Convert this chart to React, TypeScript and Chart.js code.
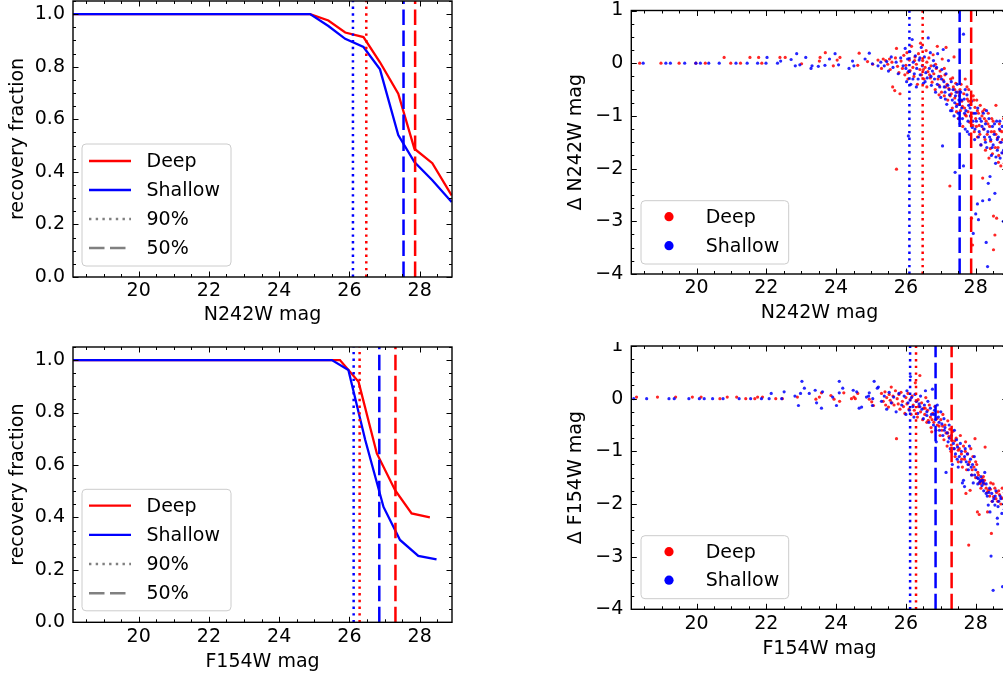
import React, { useEffect, useRef } from "react";
import { Chart, registerables } from "chart.js";

Chart.register(...registerables);

const FONT = "'DejaVu Sans', sans-serif";
const FONT_SIZE = 19;
const RED = "#ff0000";
const BLUE = "#0000ff";
const GRAY = "#808080";
const RED_PT = "rgba(255,0,0,0.85)";
const BLUE_PT = "rgba(0,0,255,0.85)";

// ---------- axes ----------
const X_MIN = 18.13;
const X_MAX = 28.92;
const X_TICKS = [20, 22, 24, 26, 28];
const FRAC_TICKS = [0, 0.2, 0.4, 0.6, 0.8, 1.0];
const DELTA_TICKS = [-4, -3, -2, -1, 0, 1];

// ---------- recovery fraction curves ----------
const n242MagDeep = [18.13, 24.88, 25.4, 25.88, 26.4, 26.87, 27.39, 27.85, 28.36, 28.91];
const n242FracDeep = [1.0, 1.0, 0.976, 0.93, 0.913, 0.817, 0.697, 0.488, 0.433, 0.31];
const n242MagShallow = [18.13, 24.88, 25.4, 25.88, 26.4, 26.87, 27.39, 27.85, 28.36, 28.91];
const n242FracShallow = [1.0, 1.0, 0.955, 0.906, 0.875, 0.79, 0.54, 0.437, 0.368, 0.285];

const f154MagDeep = [18.13, 25.73, 26.26, 26.78, 27.3, 27.77, 28.29];
const f154FracDeep = [1.0, 1.0, 0.917, 0.644, 0.504, 0.415, 0.4];
const f154MagShallow = [18.13, 25.5, 25.97, 26.45, 26.97, 27.44, 27.96, 28.48];
const f154FracShallow = [1.0, 1.0, 0.962, 0.695, 0.44, 0.314, 0.253, 0.24];

// ---------- completeness limits [deep, shallow] ----------
const n242Lim90 = [26.48, 26.1];
const n242Lim50 = [27.87, 27.54];
const f154Lim90 = [26.29, 26.12];
const f154Lim50 = [27.31, 26.85];

// ---------- magnitude differences ----------
const n242DeltaDeep: [number, number][] = [
  [18.37, 0], [18.98, 0], [19.5, 0], [19.98, 0], [20.25, 0], [20.79, 0.11], [20.98, 0], [21.26, 0],
  [21.53, 0.11], [21.78, 0.11], [21.87, 0], [22.39, 0.11], [22.54, 0.11], [23.01, -0.01], [23.52, 0.04],
  [23.54, 0.11], [23.69, 0.2], [23.92, -0.05], [24.03, 0.06], [24.11, 0.11], [24.62, -0.04], [24.66, 0.19],
  [24.9, 0.03], [25.05, -0.02], [25.2, 0.06], [25.3, -0.1], [25.35, 0.08],
  [25.42, 0.05], [25.48, -0.02], [25.53, 0.08], [25.55, -0.12], [25.6, 0.02], [25.62, -0.45], [25.68, -0.52],
  [25.7, 0.1], [25.73, 0.28], [25.73, -2.01], [25.76, -0.06], [25.8, -0.18], [25.83, -0.58], [25.86, 0.04],
  [25.9, -0.1], [25.94, 0.15], [25.97, -0.22], [26.0, -0.04], [26.03, 0.2], [26.06, -0.3], [26.1, 0.06],
  [26.12, -0.14], [26.16, 0.32], [26.2, -0.08], [26.23, -0.25], [26.26, 0.12], [26.3, -0.02], [26.33, -0.4],
  [26.36, 0.18], [26.4, -0.12], [26.42, 0.38], [26.45, -0.22], [26.48, 0.05], [26.52, -0.3], [26.55, -0.08],
  [26.58, 0.24], [26.6, -0.45], [26.63, -0.16], [26.66, 0.1], [26.7, -0.28], [26.72, -0.05], [26.75, -0.36],
  [26.78, 0.16], [26.8, -0.2], [26.84, -0.5], [26.87, -0.1], [26.9, 0.32], [26.92, -0.3], [26.95, -0.42],
  [26.98, -0.15], [27.02, -0.55], [27.04, 0.08], [27.07, -0.32], [27.1, -0.62], [27.12, -0.22], [27.15, 0.3],
  [27.18, -0.4], [27.2, -0.7], [27.23, -0.48], [27.26, -2.33], [27.28, -0.3], [27.3, -0.58], [27.33, -0.85],
  [27.36, -0.45], [27.38, 0.12], [27.4, -0.66], [27.43, -0.38], [27.46, -0.78], [27.48, -0.55], [27.5, -1.05],
  [27.53, -0.62], [27.56, -0.9], [27.58, -0.4], [27.6, -0.72], [27.63, -1.2], [27.66, -0.58], [27.68, -0.85],
  [27.7, -0.3], [27.73, -1.0], [27.76, -0.68], [27.78, -0.92], [27.8, -0.5], [27.83, -1.12], [27.85, -0.78],
  [27.88, -2.94], [27.9, -0.95], [27.91, -3.45], [27.93, -0.62], [27.96, -1.3], [27.98, -0.84], [28.0, -1.05],
  [28.03, -0.7], [28.05, -1.4], [28.08, -0.95], [28.1, -1.18], [28.13, -0.8], [28.15, -1.55], [28.18, -1.0],
  [28.2, -2.18], [28.22, -1.25], [28.25, -0.88], [28.28, -1.65], [28.3, -1.1], [28.33, -1.35], [28.36, -0.95],
  [28.38, -1.8], [28.4, -1.2], [28.43, -1.48], [28.46, -1.05], [28.48, -1.72], [28.51, -2.9], [28.51, -3.54],
  [28.53, -1.3], [28.55, -3.26], [28.56, -1.6], [28.58, -0.8], [28.6, -2.94], [28.62, -1.42], [28.65, -1.88],
  [28.68, -1.15], [28.7, -1.5], [28.72, -1.95], [28.75, -1.3], [28.78, -1.7], [28.8, -1.05], [28.83, -1.6],
  [28.86, -1.25], [28.88, -1.85], [28.9, -1.45],
  [26.05, -0.18], [26.25, 0.05], [26.5, -0.12], [26.68, -0.22], [26.85, -0.02], [27.0, -0.25], [27.14, -0.45],
  [27.27, -0.62], [27.34, -0.28], [27.45, -0.92], [27.55, -0.5], [27.62, -0.82], [27.7, -0.98], [27.8, -0.72],
  [27.87, -1.02], [27.95, -0.7], [28.02, -1.2], [28.12, -1.35], [28.2, -0.92], [28.27, -1.45], [28.35, -1.15],
  [28.42, -1.62], [28.5, -1.1], [28.58, -1.35], [28.64, -1.6], [28.7, -1.28], [28.77, -1.45], [28.82, -1.9],
  [28.88, -1.6], [28.66, -1.75], [28.45, -1.3], [28.25, -1.05], [28.05, -0.9], [27.92, -1.18], [27.75, -0.45],
  [27.52, -0.78], [27.4, -0.5], [27.1, -0.1], [26.95, -0.6], [26.6, 0.02],
];

const n242DeltaShallow: [number, number][] = [
  [18.47, 0], [19.12, 0], [19.25, 0], [19.66, 0], [19.98, 0], [20.11, 0], [20.35, 0], [20.65, 0], [21.13, 0],
  [21.45, 0], [21.75, 0], [21.99, 0], [22.02, 0.11], [22.32, 0], [22.41, 0.04], [22.71, 0.07], [22.87, 0.18],
  [22.83, -0.05], [22.96, -0.03], [23.13, 0.11], [23.31, -0.05], [23.28, -0.1], [23.49, -0.06], [23.68, -0.04],
  [23.81, 0.08], [23.97, 0.18], [24.07, -0.03], [24.37, -0.1], [24.47, 0.04], [24.51, -0.05], [24.83, 0.08],
  [24.95, 0.19], [25.04, -0.01], [25.2, -0.05], [25.28, 0.02],
  [25.38, -0.05], [25.45, 0.03], [25.5, -0.15], [25.58, 0.12], [25.63, -0.08], [25.72, 0.02], [25.78, -0.2],
  [25.85, 0.1], [25.92, -0.05], [25.98, 0.28], [26.02, -0.35], [26.05, 0.08], [26.07, -1.38], [26.08, -0.15],
  [26.11, 0.22], [26.14, -0.4], [26.18, 0.45], [26.21, 0.02], [26.24, -0.2], [26.27, 0.14], [26.31, -0.1],
  [26.35, -0.3], [26.38, 0.06], [26.41, -0.22], [26.44, 0.3], [26.47, -0.05], [26.5, -0.38], [26.53, 0.12],
  [26.57, -0.18], [26.61, -0.28], [26.64, 0.48], [26.67, -0.1], [26.7, 0.2], [26.73, -0.42], [26.76, -0.15],
  [26.79, 0.05], [26.82, -0.3], [26.85, -0.55], [26.88, -0.08], [26.91, 0.18], [26.94, -0.25], [26.97, -0.45],
  [27.0, -0.65], [27.03, -0.12], [27.05, -1.57], [27.07, 0.26], [27.09, -0.35], [27.12, -0.55], [27.15, -0.2],
  [27.17, -0.78], [27.2, -0.42], [27.22, 0.05], [27.25, -0.6], [27.28, -0.9], [27.3, -0.35], [27.33, -0.7],
  [27.35, -0.5], [27.38, -1.0], [27.41, -2.07], [27.42, -0.62], [27.45, -0.82], [27.47, -0.4], [27.5, -0.95],
  [27.52, -0.7], [27.55, -1.15], [27.57, -0.55], [27.6, -0.85], [27.62, -1.05], [27.65, 0.55], [27.65, -1.95],
  [27.67, -0.68], [27.7, -1.25], [27.72, -0.9], [27.75, -0.6], [27.78, -1.1], [27.8, -0.8], [27.82, -1.35],
  [27.85, -1.0], [27.88, -0.72], [27.9, -1.22], [27.93, -3.23], [27.95, -0.95], [27.97, -1.45], [28.0, -2.86],
  [28.02, -1.1], [28.05, -2.67], [28.06, -0.85], [28.08, -2.97], [28.1, -1.3], [28.12, -1.05], [28.15, -1.55],
  [28.18, -1.2], [28.2, -2.61], [28.22, -0.95], [28.25, -1.4], [28.28, -1.15], [28.3, -3.4], [28.32, -1.6],
  [28.34, -3.86], [28.35, -1.3], [28.36, -2.28], [28.38, -1.05], [28.39, -2.59], [28.41, -2.15], [28.43, -1.45],
  [28.45, -1.75], [28.48, -1.2], [28.5, -1.55], [28.53, -1.35], [28.55, -2.47], [28.57, -1.9], [28.6, -1.1],
  [28.62, -1.65], [28.65, -1.4], [28.68, -1.25], [28.7, -1.8], [28.73, -1.5], [28.76, -1.2], [28.79, -3.0],
  [28.8, -1.65], [28.84, -1.35], [28.87, -2.0], [28.9, -1.5],
  [26.0, -0.1], [26.2, -0.3], [26.4, 0.1], [26.55, -0.35], [26.72, -0.25], [26.9, -0.4], [27.02, -0.3],
  [27.13, -0.68], [27.24, -0.5], [27.32, -0.9], [27.44, -0.55], [27.52, -1.05], [27.6, -0.7], [27.68, -0.95],
  [27.76, -1.3], [27.84, -0.85], [27.92, -1.1], [28.0, -0.95], [28.08, -1.4], [28.16, -1.1], [28.24, -1.25],
  [28.31, -0.9], [28.4, -1.4], [28.47, -1.6], [28.54, -1.15], [28.62, -1.45], [28.69, -1.1], [28.75, -1.7],
  [28.82, -1.45], [28.88, -1.3], [28.58, -1.78], [28.28, -1.5], [27.98, -1.25], [27.7, -0.5], [27.4, -0.75],
  [27.1, -0.45], [26.8, -0.05], [26.3, -0.45],
];

const f154DeltaDeep: [number, number][] = [
  [18.28, 0.03], [18.88, 0.03], [19.4, 0.03], [19.88, 0.03], [20.13, 0.03], [20.67, 0], [20.88, 0.03],
  [21.15, 0.03], [21.41, 0], [21.67, 0], [21.75, 0.03], [21.89, 0.03], [22.27, 0], [22.46, 0], [22.89, 0.03],
  [23.42, -0.01], [23.52, 0.03], [23.58, 0.11], [23.85, 0.06], [23.94, -0.01], [24.1, -0.05], [24.22, 0.11],
  [24.44, 0], [24.51, 0.03], [24.55, 0], [24.62, 0.1], [24.95, -0.01], [25.02, -0.06], [25.07, -0.13],
  [25.3, 0.1], [25.35, -0.05], [25.4, 0.13], [25.42, -0.12], [25.45, 0.02], [25.5, -0.16], [25.52, 0.08],
  [25.55, -0.03], [25.58, 0.22], [25.6, -0.08], [25.63, 0.05], [25.66, -0.12], [25.7, 0.15], [25.73, -0.76],
  [25.75, 0.0], [25.78, -0.1], [25.8, 0.08], [25.83, -0.2], [25.86, 0.12], [25.9, -0.05], [25.93, -0.15],
  [25.97, -0.28], [26.0, 0.02], [26.03, -0.1], [26.06, 0.1], [26.09, -0.2], [26.12, -0.02], [26.15, -0.3],
  [26.18, 0.05], [26.21, -0.12], [26.24, -0.22], [26.27, 0.3], [26.3, -0.05], [26.33, -0.35], [26.36, -0.15],
  [26.4, 0.44], [26.42, -0.25], [26.45, -0.08], [26.48, -0.4], [26.51, -0.18], [26.54, -0.3], [26.57, 0.02],
  [26.6, -0.45], [26.62, -0.22], [26.64, -0.41], [26.67, -0.12], [26.7, -0.35], [26.72, -0.55], [26.74, -0.63],
  [26.77, -0.28], [26.8, -0.45], [26.83, -0.15], [26.86, -0.6], [26.89, -0.38], [26.92, -0.25], [26.95, -0.52],
  [26.98, -0.7], [27.0, -0.4], [27.03, -0.6], [27.06, -0.3], [27.09, -0.78], [27.12, -0.5], [27.15, -0.65],
  [27.18, -0.9], [27.2, -0.42], [27.23, -0.72], [27.26, -0.58], [27.29, -1.0], [27.32, -0.8], [27.35, -0.62],
  [27.38, -0.95], [27.41, -1.1], [27.44, -0.75], [27.47, -0.88], [27.5, -1.2], [27.53, -0.95], [27.56, -0.7],
  [27.59, -1.05], [27.62, -1.3], [27.65, -0.9], [27.68, -1.15], [27.71, -0.82], [27.72, -1.8], [27.74, -1.35],
  [27.77, -1.05], [27.8, -2.78], [27.82, -1.2], [27.84, -1.74], [27.86, -0.95], [27.89, -1.45], [27.92, -1.1],
  [27.95, -1.3], [27.98, -0.76], [28.0, -1.5], [28.03, -1.25], [28.05, -2.15], [28.06, -1.4], [28.1, -1.6],
  [28.1, -2.2], [28.13, -1.61], [28.16, -1.55], [28.18, -1.52], [28.2, -1.58], [28.22, -1.48], [28.24, -1.62],
  [28.27, -0.92], [28.3, -1.7], [28.34, -2.15], [28.36, -1.74], [28.4, -1.85], [28.43, -1.6], [28.45, -2.56],
  [28.47, -1.95], [28.51, -1.86], [28.55, -1.7], [28.6, -1.78], [28.63, -1.95], [28.68, -1.82], [28.72, -2.0],
  [28.76, -1.7], [28.8, -1.9], [28.85, -2.1], [28.9, -1.85],
  [26.35, -0.02], [26.55, -0.18], [26.75, -0.4], [26.9, -0.5], [27.05, -0.52], [27.2, -0.65], [27.3, -0.88],
  [27.4, -0.8], [27.5, -0.98], [27.6, -1.15], [27.7, -1.0], [27.8, -1.25], [27.9, -1.35], [28.0, -1.2],
  [28.08, -1.45], [28.15, -1.7], [28.25, -1.55], [28.33, -1.78], [28.42, -1.72], [28.5, -1.62], [28.58, -1.9],
  [28.66, -1.75], [28.74, -1.88], [28.82, -1.78], [28.88, -2.0],
];

const f154DeltaShallow: [number, number][] = [
  [18.2, 0], [18.57, 0], [19.21, 0], [19.36, 0], [19.78, 0], [20.08, 0], [20.22, 0], [20.46, 0], [20.76, 0],
  [21.22, 0], [21.55, 0], [21.86, 0], [22.08, 0], [22.14, 0.1], [22.44, 0], [22.51, 0.13], [22.82, 0.05],
  [22.92, -0.13], [22.98, 0.1], [23.02, 0.33], [23.09, 0.2], [23.23, 0.1], [23.4, 0.16], [23.44, -0.08],
  [23.58, -0.18], [23.61, 0.13], [23.9, 0.03], [24.01, -0.13], [24.09, 0.33], [24.09, 0.11], [24.19, 0.2],
  [24.49, 0.16], [24.59, 0.13], [24.66, -0.18], [24.73, -0.16], [24.87, 0.03], [24.93, 0.05], [24.95, 0.11],
  [25.04, -0.13], [25.05, 0.0], [25.09, 0.33], [25.18, 0.2], [25.21, 0.22],
  [25.3, -0.05], [25.38, 0.05], [25.45, -0.2], [25.52, 0.12], [25.58, -0.08], [25.65, 0.03], [25.72, -0.25],
  [25.8, 0.1], [25.88, -0.12], [25.95, 0.05], [26.0, -0.3], [26.03, 0.15], [26.06, -0.08], [26.1, -0.22],
  [26.13, 0.42], [26.16, 0.02], [26.2, -0.15], [26.23, -0.35], [26.26, 0.08], [26.3, -0.05], [26.34, -0.28],
  [26.38, -0.1], [26.42, 0.05], [26.46, -0.2], [26.5, -0.38], [26.53, -0.12], [26.56, 0.15], [26.6, -0.25],
  [26.63, -0.05], [26.66, -0.45], [26.7, -0.18], [26.73, -0.3], [26.76, 0.18], [26.79, -0.5], [26.82, -0.22],
  [26.85, -0.4], [26.87, -0.82], [26.9, -0.12], [26.93, -0.35], [26.96, -0.6], [27.0, -0.25], [27.03, -0.48],
  [27.06, -0.7], [27.09, -0.38], [27.12, -0.55], [27.15, -1.4], [27.18, -0.65], [27.21, -0.82], [27.24, -0.5],
  [27.27, -0.95], [27.3, -0.7], [27.33, -1.25], [27.36, -0.85], [27.39, -0.6], [27.42, -1.05], [27.45, -0.78],
  [27.48, -0.92], [27.5, -1.3], [27.53, -1.1], [27.56, -0.85], [27.59, -1.0], [27.62, -1.6], [27.65, -1.55],
  [27.68, -1.67], [27.7, -0.95], [27.73, -1.2], [27.76, -1.05], [27.79, -1.35], [27.82, -0.9], [27.85, -1.15],
  [27.88, -1.45], [27.91, -1.25], [27.93, -1.6], [27.96, -1.1], [28.0, -1.35], [28.04, -1.5], [28.08, -1.52],
  [28.12, -1.58], [28.15, -1.48], [28.18, -1.65], [28.2, -1.55], [28.23, -1.75], [28.26, -1.4], [28.3, -1.62],
  [28.33, -1.85], [28.36, -2.02], [28.4, -1.7], [28.41, -2.15], [28.44, -2.99], [28.46, -1.8], [28.5, -3.64],
  [28.52, -1.9], [28.55, -2.02], [28.58, -1.75], [28.62, -2.27], [28.63, -2.38], [28.66, -1.95], [28.7, -1.85],
  [28.75, -2.18], [28.77, -3.57], [28.8, -2.0], [28.85, -1.75], [28.9, -2.05],
  [26.4, -0.15], [26.6, -0.32], [26.8, -0.3], [26.95, -0.45], [27.1, -0.6], [27.25, -0.75], [27.38, -0.95],
  [27.47, -1.15], [27.58, -1.2], [27.68, -1.1], [27.78, -1.25], [27.87, -1.3], [27.97, -1.45], [28.06, -1.62],
  [28.14, -1.56], [28.22, -1.6], [28.3, -1.8], [28.38, -1.78], [28.48, -1.95], [28.56, -1.85], [28.64, -2.05],
  [28.72, -1.9], [28.82, -2.1], [28.88, -1.9],
];

// ---------- styles ----------
const DASHED = [15.5, 5.5];
const DOTTED = [2.4, 4.3];
const MAJOR_LEN = 5.5;
const MINOR_LEN = 3;

type LegendItem = { label: string; kind: "line" | "dot"; color: string; dash?: number[]; width?: number };
type LegendSpec = {
  box: [number, number, number, number];
  rowY0: number;
  rowStep: number;
  handleX0: number;
  handleX1: number;
  textX: number;
  items: LegendItem[];
};

function makeFramePlugin(xTicks: number[], yTicks: number[], xMinor: number, yMinor: number) {
  return {
    id: "mplFrame",
    afterDatasetsDraw(chart: any) {
      const { ctx, chartArea: a } = chart;
      const xs = chart.scales.x;
      const ys = chart.scales.y;
      const minorVals = (min: number, max: number, step: number, majors: number[]) => {
        const out: number[] = [];
        for (let k = Math.ceil(min / step - 1e-9); k * step <= max + 1e-9; k++) {
          const v = Math.round(k * step * 1000) / 1000;
          if (!majors.some((m) => Math.abs(m - v) < 1e-6)) out.push(v);
        }
        return out;
      };
      ctx.save();
      ctx.setLineDash([]);
      ctx.strokeStyle = "#000";
      ctx.lineWidth = 1;
      ctx.beginPath();
      const xTick = (v: number, len: number) => {
        const p = Math.round(xs.getPixelForValue(v)) + 0.5;
        if (p < a.left || p > a.right) return;
        ctx.moveTo(p, a.bottom);
        ctx.lineTo(p, a.bottom - len);
        ctx.moveTo(p, a.top);
        ctx.lineTo(p, a.top + len);
      };
      const yTick = (v: number, len: number) => {
        const p = Math.round(ys.getPixelForValue(v)) + 0.5;
        if (p < a.top - 1 || p > a.bottom + 1) return;
        ctx.moveTo(a.left, p);
        ctx.lineTo(a.left + len, p);
        ctx.moveTo(a.right, p);
        ctx.lineTo(a.right - len, p);
      };
      xTicks.forEach((v) => xTick(v, MAJOR_LEN));
      minorVals(xs.min, xs.max, xMinor, xTicks).forEach((v) => xTick(v, MINOR_LEN));
      yTicks.forEach((v) => yTick(v, MAJOR_LEN));
      minorVals(ys.min, ys.max, yMinor, yTicks).forEach((v) => yTick(v, MINOR_LEN));
      ctx.stroke();
      ctx.lineWidth = 1.4;
      ctx.strokeRect(a.left, a.top, a.right - a.left, a.bottom - a.top);
      ctx.restore();
    },
  };
}

function makeLegendPlugin(spec: LegendSpec) {
  return {
    id: "mplLegend",
    afterDraw(chart: any) {
      const ctx = chart.ctx;
      const [bx, by, bw, bh] = spec.box;
      const r = 4;
      ctx.save();
      ctx.setLineDash([]);
      ctx.beginPath();
      ctx.moveTo(bx + r, by);
      ctx.lineTo(bx + bw - r, by);
      ctx.arcTo(bx + bw, by, bx + bw, by + r, r);
      ctx.lineTo(bx + bw, by + bh - r);
      ctx.arcTo(bx + bw, by + bh, bx + bw - r, by + bh, r);
      ctx.lineTo(bx + r, by + bh);
      ctx.arcTo(bx, by + bh, bx, by + bh - r, r);
      ctx.lineTo(bx, by + r);
      ctx.arcTo(bx, by, bx + r, by, r);
      ctx.closePath();
      ctx.fillStyle = "rgba(255,255,255,0.8)";
      ctx.fill();
      ctx.strokeStyle = "#cccccc";
      ctx.lineWidth = 1;
      ctx.stroke();
      spec.items.forEach((it, i) => {
        const yy = spec.rowY0 + i * spec.rowStep;
        if (it.kind === "line") {
          ctx.beginPath();
          ctx.setLineDash(it.dash || []);
          ctx.strokeStyle = it.color;
          ctx.lineWidth = it.width || 2;
          ctx.moveTo(spec.handleX0, yy);
          ctx.lineTo(spec.handleX1, yy);
          ctx.stroke();
          ctx.setLineDash([]);
        } else {
          ctx.beginPath();
          ctx.fillStyle = it.color;
          ctx.arc((spec.handleX0 + spec.handleX1) / 2, yy, 4.6, 0, Math.PI * 2);
          ctx.fill();
        }
        ctx.fillStyle = "#000";
        ctx.font = `${FONT_SIZE}px ${FONT}`;
        ctx.textBaseline = "middle";
        ctx.textAlign = "left";
        ctx.fillText(it.label, spec.textX, yy + 1);
      });
      ctx.restore();
    },
  };
}

type PanelSpec = {
  left: number;
  top: number;
  width: number;
  height: number;
  area: { l: number; t: number; r: number; b: number };
  yMin: number;
  yMax: number;
  yTicks: number[];
  yMinor: number;
  yFmt: (v: number) => string;
  xTitle: string;
  yTitle: string;
  xTitlePad: number;
  yTitlePad: number;
  datasets: any[];
  legend: LegendSpec;
};

const lineSet = (xs: number[], ys: number[], color: string, order: number) => ({
  data: xs.map((x, i) => ({ x, y: ys[i] })),
  showLine: true,
  borderColor: color,
  borderWidth: 2.3,
  pointRadius: 0,
  tension: 0,
  fill: false,
  order,
});

const vline = (x: number, y0: number, y1: number, color: string, dash: number[]) => ({
  data: [
    { x, y: y0 },
    { x, y: y1 },
  ],
  showLine: true,
  borderColor: color,
  borderWidth: 2.5,
  borderDash: dash,
  borderCapStyle: "butt",
  pointRadius: 0,
  fill: false,
  order: 0,
});

const dotSet = (pts: [number, number][], color: string, order: number) => ({
  data: pts.map(([x, y]) => ({ x, y })),
  showLine: false,
  backgroundColor: color,
  borderWidth: 0,
  pointRadius: 1.6,
  order,
});

const limitLines = (lim90: number[], lim50: number[], y0: number, y1: number) => [
  vline(lim90[1], y0, y1, BLUE, DOTTED),
  vline(lim90[0], y0, y1, RED, DOTTED),
  vline(lim50[1], y0, y1, BLUE, DASHED),
  vline(lim50[0], y0, y1, RED, DASHED),
];

const fracFmt = (v: number) => Number(v).toFixed(1);
const deltaFmt = (v: number) => (v < 0 ? "\u2212" + Math.abs(v) : String(v));

const lineLegendItems: LegendItem[] = [
  { label: "Deep", kind: "line", color: RED, width: 2.3 },
  { label: "Shallow", kind: "line", color: BLUE, width: 2.3 },
  { label: "90%", kind: "line", color: GRAY, dash: DOTTED, width: 2.5 },
  { label: "50%", kind: "line", color: GRAY, dash: DASHED, width: 2.5 },
];
const dotLegendItems: LegendItem[] = [
  { label: "Deep", kind: "dot", color: RED },
  { label: "Shallow", kind: "dot", color: BLUE },
];

const PANELS: PanelSpec[] = [
  {
    left: 0, top: 0, width: 470, height: 330,
    area: { l: 73, t: 1, r: 452, b: 277 },
    yMin: 0, yMax: 1.05, yTicks: FRAC_TICKS, yMinor: 0.05, yFmt: fracFmt,
    xTitle: "N242W mag", yTitle: "recovery fraction", xTitlePad: 3.5, yTitlePad: 7,
    datasets: [
      ...limitLines(n242Lim90, n242Lim50, 0, 1.05),
      lineSet(n242MagShallow, n242FracShallow, BLUE, 1),
      lineSet(n242MagDeep, n242FracDeep, RED, 2),
    ],
    legend: { box: [82, 144, 149, 122], rowY0: 161, rowStep: 29, handleX0: 89, handleX1: 131, textX: 146.5, items: lineLegendItems },
  },
  {
    left: 0, top: 335, width: 470, height: 340,
    area: { l: 73, t: 347, r: 452, b: 622.3 },
    yMin: 0, yMax: 1.05, yTicks: FRAC_TICKS, yMinor: 0.05, yFmt: fracFmt,
    xTitle: "F154W mag", yTitle: "recovery fraction", xTitlePad: 2, yTitlePad: 7,
    datasets: [
      ...limitLines(f154Lim90, f154Lim50, 0, 1.05),
      lineSet(f154MagShallow, f154FracShallow, BLUE, 1),
      lineSet(f154MagDeep, f154FracDeep, RED, 2),
    ],
    legend: { box: [82, 154.3, 149, 121.5], rowY0: 170.7, rowStep: 29.2, handleX0: 89, handleX1: 131, textX: 146.5, items: lineLegendItems },
  },
  {
    left: 545, top: 0, width: 470, height: 330,
    area: { l: 631.3, t: 10.5, r: 1007.8, b: 274 },
    yMin: -4, yMax: 1, yTicks: DELTA_TICKS, yMinor: 0.25, yFmt: deltaFmt,
    xTitle: "N242W mag", yTitle: "\u0394 N242W mag", xTitlePad: 5.5, yTitlePad: 19.5,
    datasets: [
      ...limitLines(n242Lim90, n242Lim50, -4, 1),
      dotSet(n242DeltaShallow, BLUE_PT, 1),
      dotSet(n242DeltaDeep, RED_PT, 2),
    ],
    legend: { box: [96, 200.7, 147.7, 63.3], rowY0: 216.7, rowStep: 29, handleX0: 114, handleX1: 134, textX: 160.7, items: dotLegendItems },
  },
  {
    left: 545, top: 342, width: 470, height: 333,
    area: { l: 631.3, t: 345.6, r: 1007.8, b: 609.3 },
    yMin: -4, yMax: 1, yTicks: DELTA_TICKS, yMinor: 0.25, yFmt: deltaFmt,
    xTitle: "F154W mag", yTitle: "\u0394 F154W mag", xTitlePad: 14.3, yTitlePad: 19.5,
    datasets: [
      ...limitLines(f154Lim90, f154Lim50, -4, 1),
      dotSet(f154DeltaShallow, BLUE_PT, 1),
      dotSet(f154DeltaDeep, RED_PT, 2),
    ],
    legend: { box: [96, 193.7, 147.7, 63], rowY0: 209.7, rowStep: 28.5, handleX0: 114, handleX1: 134, textX: 160.7, items: dotLegendItems },
  },
];

function Panel({ spec }: { spec: PanelSpec }) {
  const ref = useRef<HTMLCanvasElement | null>(null);
  useEffect(() => {
    if (!ref.current) return;
    const { area } = spec;
    const padding = {
      left: 0,
      top: area.t - spec.top,
      right: spec.left + spec.width - area.r,
      bottom: 0,
    };
    const yW = area.l - spec.left;
    const xH = spec.top + spec.height - area.b;
    const font = { family: FONT, size: FONT_SIZE };
    const chart = new Chart(ref.current, {
      type: "scatter",
      data: { datasets: spec.datasets as any },
      options: {
        responsive: false,
        animation: false,
        devicePixelRatio: 1,
        events: [],
        layout: { padding },
        plugins: { legend: { display: false }, tooltip: { enabled: false } },
        scales: {
          x: {
            type: "linear",
            min: X_MIN,
            max: X_MAX,
            grid: { display: false, drawTicks: false },
            border: { display: false },
            afterBuildTicks: (s: any) => {
              s.ticks = X_TICKS.map((v) => ({ value: v }));
            },
            afterFit: (s: any) => {
              s.height = xH;
              s.paddingLeft = 0;
              s.paddingRight = 0;
              s.paddingTop = 0;
              s.paddingBottom = 0;
            },
            ticks: {
              padding: 3,
              autoSkip: false,
              maxRotation: 0,
              font,
              color: "#000",
              callback: (v: any) => String(v),
            },
            title: {
              display: true,
              text: spec.xTitle,
              font,
              color: "#000",
              padding: { top: 0, bottom: spec.xTitlePad },
            },
          },
          y: {
            type: "linear",
            min: spec.yMin,
            max: spec.yMax,
            grid: { display: false, drawTicks: false },
            border: { display: false },
            afterBuildTicks: (s: any) => {
              s.ticks = spec.yTicks.map((v) => ({ value: v }));
            },
            afterFit: (s: any) => {
              s.width = yW;
              s.paddingTop = 0;
              s.paddingBottom = 0;
              s.paddingLeft = 0;
              s.paddingRight = 0;
            },
            ticks: {
              padding: 8,
              autoSkip: false,
              font,
              color: "#000",
              callback: (v: any) => spec.yFmt(Number(v)),
            },
            title: {
              display: true,
              text: spec.yTitle,
              font,
              color: "#000",
              padding: { top: spec.yTitlePad, bottom: 0 },
            },
          },
        },
      } as any,
      plugins: [makeFramePlugin(X_TICKS, spec.yTicks, 0.5, spec.yMinor), makeLegendPlugin(spec.legend)] as any,
    });
    return () => chart.destroy();
  }, [spec]);
  return (
    <canvas
      ref={ref}
      width={spec.width}
      height={spec.height}
      style={{ position: "absolute", left: spec.left, top: spec.top, width: spec.width, height: spec.height }}
    />
  );
}

export default function App() {
  return (
    <div
      style={{
        position: "absolute",
        left: 0,
        top: 0,
        width: 1003,
        height: 675,
        overflow: "hidden",
        background: "#ffffff",
      }}
    >
      {PANELS.map((p, i) => (
        <Panel key={i} spec={p} />
      ))}
    </div>
  );
}
